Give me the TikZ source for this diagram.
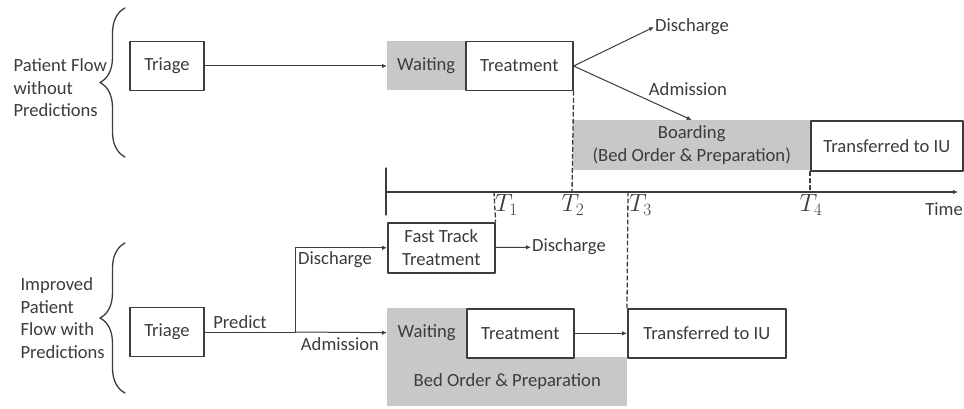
\documentclass[tikz,border=0pt]{standalone}
\usepackage{fontspec}
\setmainfont{Carlito}
\usetikzlibrary{arrows.meta,decorations.pathreplacing}

\definecolor{inkgray}{HTML}{3C3C3C}
\definecolor{fillgray}{HTML}{C8C8C8}

\begin{document}
\begin{tikzpicture}[x=1pt, y=-1pt, line cap=round, line join=round,
		font=\fontsize{18.6}{22.5}\selectfont, text=inkgray,
		box/.style={draw=inkgray, line width=1.6pt, fill=white, inner sep=0pt, minimum height=49pt},
		shaded/.style={fill=fillgray, inner sep=0pt, minimum height=49pt},
		flow/.style={draw=inkgray, line width=1pt, -{Latex[length=5pt,width=4.5pt]}},
		plain/.style={draw=inkgray, line width=1pt},
		tline/.style={draw=inkgray, line width=1.3pt, dash pattern=on 4pt off 3pt},
		grpbrace/.style={draw=inkgray, line width=1.3pt, decorate, decoration={brace, amplitude=25pt}},
		lbl/.style={inner sep=1pt},
		tlbl/.style={inner sep=1pt, font=\fontsize{23}{26}\selectfont}]
	% Window bounds
	\useasboundingbox (0,0) rectangle (964,409);
	
	% Patient flow without predictions
	\node[align=left, anchor=west] (grpA) at (10,88) {Patient Flow\\without\\Predictions};
	\draw[grpbrace] (125,157) -- (125,8);
	\node[box, minimum width=74pt] (triageA) at (167,66) {Triage};
	\node[shaded, minimum width=78pt, anchor=west] (waitA) at (387,66) {Waiting};
	\node[box, minimum width=107pt, anchor=west] (treatA) at (465,66) {Treatment};
	\node[shaded, minimum width=237pt, minimum height=50pt, align=center, anchor=north west] (boardA) at (573,120) {Boarding\\(Bed Order \& Preparation)};
	\node[box, minimum width=152pt, minimum height=50pt, anchor=north west] (xferA) at (810,120) {Transferred to IU};
	\node[lbl, anchor=west] (dischA) at (654,27) {Discharge};
	\node[lbl] (admA) at (688,89) {Admission};
	\draw[flow] (triageA) -- (waitA);
	\draw[flow] (treatA.east) -- (dischA.west);
	\draw[flow] (treatA.east) -- (boardA.north);
	
	% Time axis
	\coordinate (t0) at (386,192);
	\coordinate (tend) at (958,192);
	\coordinate (T1) at (494,192);
	\coordinate (T2) at (572,192);
	\coordinate (T3) at (628,192);
	\coordinate (T4) at (810,192);
	\draw[plain, line width=1.3pt, -{Latex[length=5pt,width=4.5pt]}] (t0) -- (tend);
	\draw[plain, line width=1.3pt] (386,168) -- (386,215);
	\node[lbl, anchor=east] (timelbl) at (964,209) {Time};
	\node[tlbl, anchor=west] (t1lbl) at (494,205) {$T_1$};
	\node[tlbl] (t2lbl) at (573,205) {$T_2$};
	\node[tlbl, anchor=west] (t3lbl) at (628,205) {$T_3$};
	\node[tlbl] (t4lbl) at (811,205) {$T_4$};
	
	% Improved patient flow with predictions
	\node[align=left, anchor=west] (grpB) at (17,318) {Improved\\Patient\\Flow with\\Predictions};
	\draw[grpbrace] (125,393) -- (125,243);
	\node[box, minimum width=74pt] (triageB) at (167,332) {Triage};
	\coordinate (split) at (295,332);
	\node[box, minimum width=107pt, minimum height=50pt, align=center, anchor=north west] (fast) at (387,222) {Fast Track\\Treatment};
	\node[shaded, minimum width=240pt, anchor=north west] (bed) at (387,357) {Bed Order \& Preparation};
	\node[shaded, minimum width=79pt, anchor=north west] (waitB) at (387,308) {Waiting};
	\node[box, minimum width=107pt, anchor=north west] (treatB) at (466,308) {Treatment};
	\node[box, minimum width=158pt, anchor=north west] (xferB) at (627,308) {Transferred to IU};
	\node[lbl, anchor=west] (dischB) at (531,247) {Discharge};
	\node[lbl] (predlbl) at (240,322) {Predict};
	\node[lbl] (dischlbl) at (335,260) {Discharge};
	\node[lbl] (admlbl) at (340,344) {Admission};
	\draw[plain] (triageB) -- (split);
	\draw[flow] (split) -- (waitB.west);
	\draw[flow] (split) |- (fast.west);
	\draw[flow] (fast) -- (dischB);
	\draw[flow] (treatB) -- (xferB);
	
	% Dashed time marks
	\draw[tline] (T1) -- (fast.north east);
	\draw[tline] (treatA.south east) -- (T2);
	\draw[tline] (T3) -- (xferB.north west);
	\draw[tline] (xferA.south west) -- (T4);
\end{tikzpicture}
\end{document}
